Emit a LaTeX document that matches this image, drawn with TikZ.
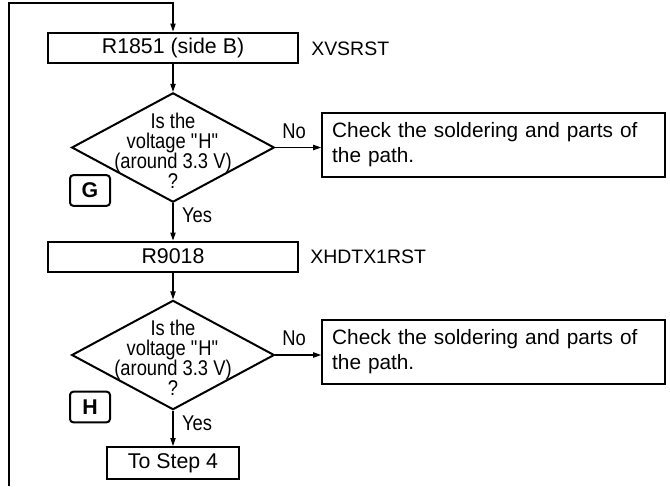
\documentclass[tikz,border=0pt]{standalone}
\usepackage{fontspec}
\setmainfont{Liberation Sans}
\newfontfamily\narrowfont{Liberation Sans}[FakeStretch=0.86]
\usetikzlibrary{arrows.meta,shapes.geometric}

\begin{document}
\begin{tikzpicture}[x=0.75pt,y=-0.75pt,
      box/.style={rectangle,draw,line width=1.5pt,minimum width=188pt,
                  minimum height=22.5pt,inner sep=0pt,font=\fontsize{16}{19}\selectfont},
      decision/.style={diamond,draw,line width=1.5pt,minimum width=152pt,
                       minimum height=82pt,inner sep=0pt},
      question/.style={align=center,inner sep=0pt,font=\narrowfont\fontsize{16}{15}\selectfont},
      checkbox/.style={rectangle,draw,line width=1.5pt,minimum height=48pt,
                       text width=242pt,inner xsep=7.5pt,align=left,
                       font=\fontsize{15.6}{18.75}\selectfont},
      tag/.style={rectangle,draw,rounded corners=2.5pt,line width=1.5pt,
                  minimum width=30pt,minimum height=23pt,inner sep=0pt,
                  font=\fontsize{16}{19}\selectfont\bfseries},
      signal/.style={anchor=west,inner sep=0pt,font=\fontsize{14.6}{17}\selectfont},
      answer/.style={inner sep=0pt,font=\narrowfont\fontsize{16}{16}\selectfont},
      arr/.style={line width=0.8pt,-{Triangle[length=6pt,width=4pt]}}]

      \useasboundingbox (0,0) rectangle (670,486);

      % Ruecksprung von unten
      \coordinate (loopbot) at (9,486);
      \coordinate (looptop) at (173,3);

      % Pruefung G
      \node[box] (r1851) at (173,47.5) {R1851 (side B)};
      \node[signal] (xvsrst) at (311,48.5) {XVSRST};
      \node[decision] (d1) at (173,147.5) {};
      \node[question] (q1) at (173,150.5)
        {Is the\\voltage \textquotedbl H\textquotedbl\\(around 3.3 V)\\?};
      \node[checkbox] (chk1) at (493.5,145) {Check the soldering and parts of\\the path.};
      \node[tag] (g) at (90,190.5) {G};
      \node[answer] (no1) at (294,131) {No};
      \node[answer] (yes1) at (197,215) {Yes};

      % Pruefung H
      \node[box] (r9018) at (173,256.5) {R9018};
      \node[signal] (xhdtx) at (310,256.5) {XHDTX1RST};
      \node[decision] (d2) at (173,355) {};
      \node[question] (q2) at (173,358)
        {Is the\\voltage \textquotedbl H\textquotedbl\\(around 3.3 V)\\?};
      \node[checkbox] (chk2) at (493.5,352) {Check the soldering and parts of\\the path.};
      \node[tag] (h) at (90,407) {H};
      \node[answer] (no2) at (294,338) {No};
      \node[answer] (yes2) at (197,423) {Yes};

      \node[box,minimum width=99pt,minimum height=24pt] (step4) at (173,463) {To Step 4};

      % Verbindungen
      \draw[arr] (loopbot) |- (looptop) -- (r1851.north);
      \draw[arr] (r1851) -- (d1.north);
      \draw[arr] (d1.east) -- (d1.east -| chk1.west);
      \draw[arr] (d1.south) -- (r9018.north);
      \draw[arr] (r9018) -- (d2.north);
      \draw[arr] (d2.east) -- (d2.east -| chk2.west);
      \draw[arr] (d2.south) -- (step4.north);
    \end{tikzpicture}
\end{document}
